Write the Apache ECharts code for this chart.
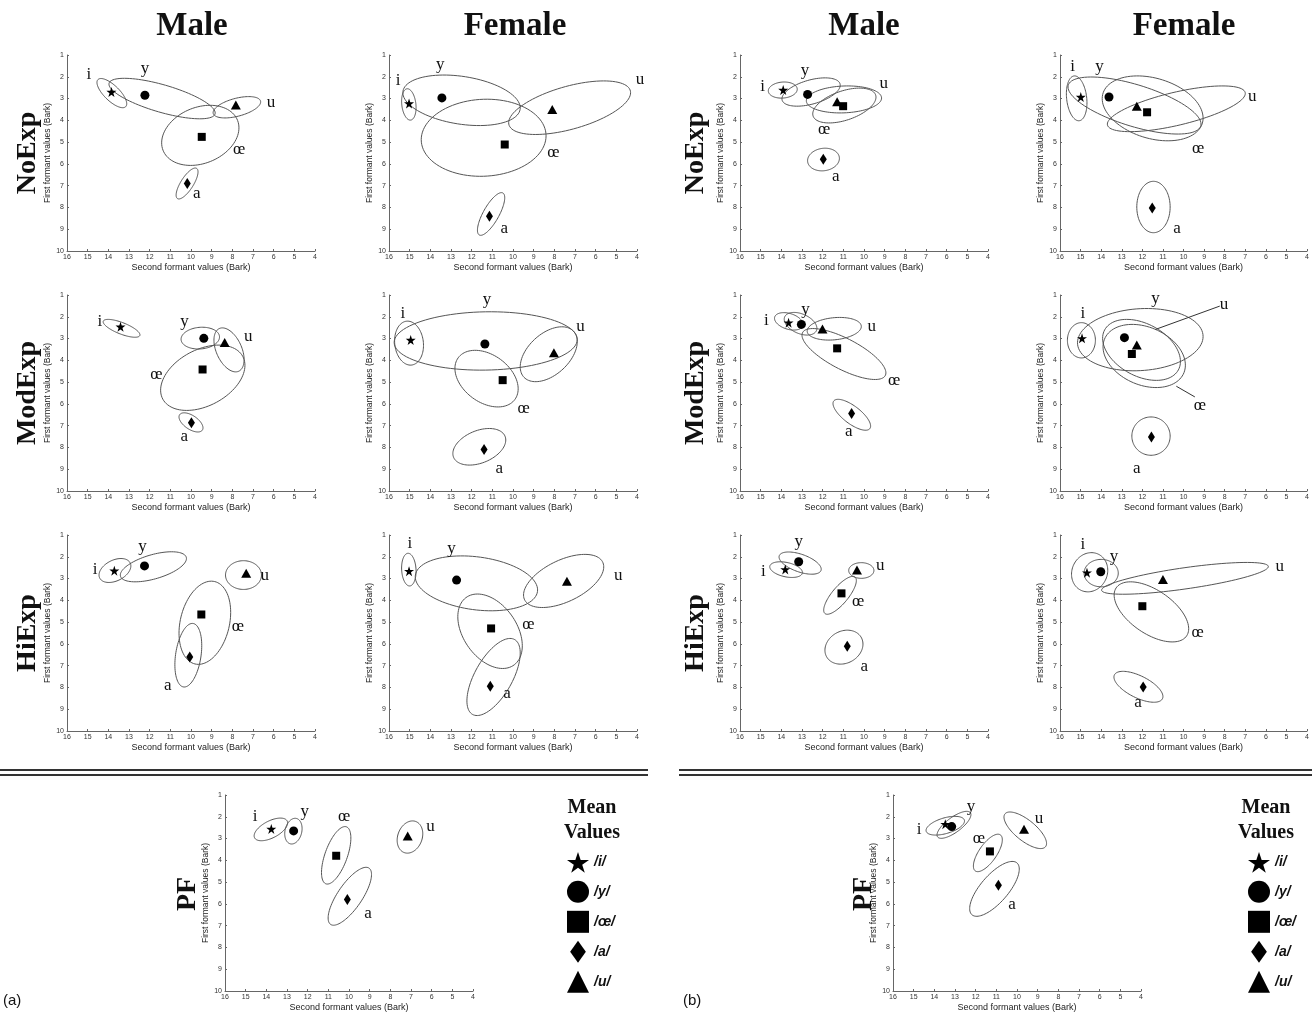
<!DOCTYPE html>
<html><head><meta charset="utf-8">
<script src="https://cdn.jsdelivr.net/npm/echarts/dist/echarts.min.js"></script>
<style>html,body{margin:0;padding:0;background:#fff}#c{width:1312px;height:1015px}</style>
</head><body><div id="c"></div>
<script>
// Vowel order everywhere: i, y, œ, a, u
const VOWELS = ['i', 'y', 'œ', 'a', 'u'];
const LEGEND_LABELS = ['/i/', '/y/', '/œ/', '/a/', '/u/'];
const COLUMN_TITLES = ['Male', 'Female', 'Male', 'Female'];
const ROW_TITLES = ['NoExp', 'ModExp', 'HiExp'];
const X_NAME = 'Second formant values (Bark)';
const Y_NAME = 'First formant values (Bark)';

// Means: F2 (x) and F1 (y), Bark.  Ellipses: [centerF2, centerF1, halfF2, halfF1, k]
// k = position (in half-heights) of the point of largest F2 relative to centre.
// Label anchors: [F2, F1]

// (a) Male NoExp
const aMaleNoExpF2 = [13.85, 12.23, 9.48, 10.18, 7.83];
const aMaleNoExpF1 = [2.70, 2.85, 4.76, 6.90, 3.30];
const aMaleNoExpEll = [[13.83, 2.75, 0.72, 0.67, -0.73], [11.40, 3.00, 2.57, 0.93, -0.71], [9.55, 4.69, 1.87, 1.38, 0.25], [10.19, 6.90, 0.53, 0.71, 0.75], [7.78, 3.40, 1.15, 0.49, 0.50]];
const aMaleNoExpLab = [[14.94, 1.91], [12.23, 1.60], [7.67, 5.35], [9.72, 7.35], [6.13, 3.16]];
// (a) Female NoExp
const aFemaleNoExpF2 = [15.03, 13.44, 10.40, 11.14, 8.10];
const aFemaleNoExpF1 = [3.23, 2.97, 5.11, 8.40, 3.50];
const aFemaleNoExpEll = [[15.04, 3.27, 0.35, 0.72, -0.20], [12.49, 3.08, 2.84, 1.16, -0.30], [11.42, 4.80, 3.02, 1.77, 0.05], [11.06, 8.30, 0.66, 0.98, 0.76], [7.26, 3.42, 2.95, 1.23, 0.56]];
const aFemaleNoExpLab = [[15.56, 2.19], [13.52, 1.46], [8.04, 5.50], [10.42, 8.97], [3.86, 2.11]];
// (a) Male ModExp
const aMaleModExpF2 = [13.41, 9.38, 9.44, 9.98, 8.37];
const aMaleModExpF1 = [2.46, 2.99, 4.42, 6.87, 3.18];
const aMaleModExpEll = [[13.36, 2.53, 0.89, 0.41, -0.73], [9.55, 2.98, 0.93, 0.50, 0.10], [9.43, 4.80, 2.04, 1.50, 0.38], [10.00, 6.85, 0.58, 0.44, -0.57], [8.16, 3.52, 0.73, 1.01, -0.44]];
const aMaleModExpLab = [[14.41, 2.23], [10.32, 2.23], [11.67, 4.65], [10.32, 7.52], [7.23, 2.92]];
// (a) Female ModExp
const aFemaleModExpF2 = [14.95, 11.36, 10.50, 11.40, 8.02];
const aFemaleModExpF1 = [3.07, 3.25, 4.91, 8.10, 3.65];
const aFemaleModExpEll = [[15.03, 3.21, 0.70, 1.01, -0.10], [11.32, 3.11, 4.43, 1.34, 0.05], [11.28, 4.84, 1.53, 1.30, -0.36], [11.63, 7.97, 1.28, 0.84, 0.37], [8.27, 3.72, 1.38, 1.26, 0.46]];
const aFemaleModExpLab = [[15.33, 1.84], [11.26, 1.23], [9.49, 6.21], [10.66, 8.98], [6.73, 2.46]];
// (a) Male HiExp
const aMaleHiExpF2 = [13.71, 12.25, 9.50, 10.06, 7.33];
const aMaleHiExpF1 = [2.64, 2.42, 4.65, 6.60, 2.76];
const aMaleHiExpEll = [[13.68, 2.63, 0.77, 0.55, 0.38], [11.82, 2.46, 1.60, 0.69, 0.55], [9.33, 5.03, 1.25, 1.91, 0.25], [10.13, 6.52, 0.65, 1.46, 0.30], [7.46, 2.84, 0.87, 0.66, 0.00]];
const aMaleHiExpLab = [[14.64, 2.58], [12.35, 1.54], [7.73, 5.22], [11.12, 7.90], [6.43, 2.84]];
// (a) Female HiExp
const aFemaleHiExpF2 = [15.03, 12.73, 11.06, 11.10, 7.39];
const aFemaleHiExpF1 = [2.66, 3.07, 5.29, 7.95, 3.12];
const aFemaleHiExpEll = [[15.04, 2.59, 0.35, 0.75, -0.10], [11.77, 3.22, 2.96, 1.26, -0.24], [11.11, 5.42, 1.56, 1.71, -0.39], [10.94, 7.52, 1.29, 1.77, 0.62], [7.55, 3.11, 1.94, 1.22, 0.53]];
const aFemaleHiExpLab = [[14.99, 1.38], [12.98, 1.61], [9.25, 5.10], [10.29, 8.29], [4.91, 2.84]];
// (b) Male NoExp
const bMaleNoExpF2 = [13.91, 12.73, 11.01, 11.97, 11.30];
const bMaleNoExpF1 = [2.61, 2.81, 3.35, 5.79, 3.15];
const bMaleNoExpEll = [[13.93, 2.61, 0.70, 0.37, 0.10], [12.56, 2.70, 1.41, 0.65, 0.48], [10.95, 3.32, 1.53, 0.80, 0.48], [11.96, 5.80, 0.77, 0.52, 0.10], [10.97, 3.04, 1.82, 0.62, 0.10]];
const bMaleNoExpLab = [[14.90, 2.45], [12.85, 1.70], [11.93, 4.43], [11.36, 6.60], [9.05, 2.32]];
// (b) Female NoExp
const bFemaleNoExpF2 = [14.99, 13.62, 11.77, 11.52, 12.27];
const bFemaleNoExpF1 = [2.93, 2.93, 3.63, 8.03, 3.35];
const bFemaleNoExpEll = [[15.19, 2.99, 0.50, 1.03, -0.20], [12.38, 3.32, 3.23, 1.31, -0.65], [11.50, 3.45, 2.45, 1.49, -0.30], [11.46, 7.98, 0.81, 1.18, 0.00], [10.35, 3.47, 3.35, 1.05, 0.67]];
const bFemaleNoExpLab = [[15.39, 1.54], [14.08, 1.54], [9.29, 5.28], [10.32, 8.96], [6.66, 2.90]];
// (b) Male ModExp
const bMaleModExpF2 = [13.65, 13.03, 11.30, 10.60, 12.01];
const bMaleModExpF1 = [2.27, 2.35, 3.45, 6.44, 2.56];
const bMaleModExpEll = [[13.64, 2.21, 0.69, 0.40, -0.35], [13.07, 2.32, 0.79, 0.52, -0.40], [10.97, 3.71, 2.03, 1.17, -0.74], [10.59, 6.50, 0.91, 0.71, -0.73], [11.44, 2.55, 1.31, 0.52, 0.20]];
const bMaleModExpLab = [[14.73, 2.15], [12.83, 1.66], [8.54, 4.91], [10.74, 7.29], [9.62, 2.46]];
// (b) Female ModExp
const bFemaleModExpF2 = [14.93, 12.87, 12.51, 11.56, 12.27];
const bFemaleModExpF1 = [2.99, 2.96, 3.71, 7.52, 3.30];
const bFemaleModExpEll = [[14.96, 3.08, 0.68, 0.81, 0.00], [12.10, 3.05, 3.05, 1.43, 0.10], [11.91, 3.80, 2.00, 1.45, -0.29], [11.58, 7.48, 0.93, 0.88, 0.00], [12.04, 3.52, 1.89, 1.40, -0.38]];
const bFemaleModExpLab = [[14.89, 1.84], [11.36, 1.15], [9.20, 6.06], [12.27, 8.98], [8.04, 1.46]];
const bFemaleModExpPointers = [[8.24, 1.51, 11.36, 2.58], [9.45, 5.68, 10.35, 5.19]];
// (b) Male HiExp
const bMaleHiExpF2 = [13.81, 13.16, 11.09, 10.81, 10.34];
const bMaleHiExpF1 = [2.58, 2.23, 3.68, 6.11, 2.61];
const bMaleHiExpEll = [[13.77, 2.59, 0.79, 0.36, -0.36], [13.09, 2.29, 1.02, 0.51, -0.55], [11.16, 3.77, 0.79, 0.87, 0.78], [10.97, 6.15, 0.92, 0.78, 0.18], [10.13, 2.63, 0.61, 0.36, 0.00]];
const bMaleHiExpLab = [[14.87, 2.69], [13.16, 1.31], [10.28, 4.04], [9.99, 7.06], [9.21, 2.38]];
// (b) Female HiExp
const bFemaleHiExpF2 = [14.69, 14.02, 12.00, 11.96, 11.00];
const bFemaleHiExpF1 = [2.73, 2.69, 4.27, 7.98, 3.04];
const bFemaleHiExpEll = [[14.56, 2.71, 0.88, 0.90, 0.10], [14.00, 2.75, 0.83, 0.63, 0.00], [11.56, 4.53, 1.81, 1.38, -0.56], [12.19, 7.97, 1.19, 0.71, -0.63], [9.93, 2.99, 4.05, 0.73, 0.74]];
const bFemaleHiExpLab = [[14.89, 1.46], [13.38, 1.99], [9.31, 5.49], [12.21, 8.71], [5.33, 2.46]];
// (a) PF
const aPFF2 = [13.76, 12.68, 10.62, 10.08, 7.16];
const aPFF1 = [2.56, 2.65, 3.79, 5.80, 2.88];
const aPFEll = [[13.78, 2.58, 0.81, 0.52, 0.57], [12.69, 2.66, 0.42, 0.59, 0.20], [10.62, 3.77, 0.71, 1.32, 0.60], [9.96, 5.65, 1.05, 1.33, 0.75], [7.05, 2.93, 0.62, 0.74, 0.20]];
const aPFLab = [[14.54, 1.99], [12.14, 1.76], [10.24, 1.99], [9.08, 6.45], [6.06, 2.45]];
// (b) PF
const bPFF2 = [13.47, 13.16, 11.31, 10.90, 9.66];
const bPFF1 = [2.34, 2.45, 3.59, 5.14, 2.57];
const bPFEll = [[13.47, 2.41, 0.93, 0.43, 0.50], [13.05, 2.37, 0.82, 0.62, 0.75], [11.41, 3.66, 0.70, 0.86, 0.70], [11.09, 5.31, 1.20, 1.26, 0.72], [9.60, 2.62, 1.03, 0.84, -0.72]];
const bPFLab = [[14.74, 2.60], [12.23, 1.51], [11.85, 2.99], [10.24, 6.03], [8.94, 2.06]];

// ---------- layout ----------
const PW = 248, PH = 196;
const PANELS = [
  {f2: aMaleNoExpF2, f1: aMaleNoExpF1, ell: aMaleNoExpEll, lab: aMaleNoExpLab, left: 67, top: 55},
  {f2: aFemaleNoExpF2, f1: aFemaleNoExpF1, ell: aFemaleNoExpEll, lab: aFemaleNoExpLab, left: 389, top: 55},
  {f2: aMaleModExpF2, f1: aMaleModExpF1, ell: aMaleModExpEll, lab: aMaleModExpLab, left: 67, top: 295},
  {f2: aFemaleModExpF2, f1: aFemaleModExpF1, ell: aFemaleModExpEll, lab: aFemaleModExpLab, left: 389, top: 295},
  {f2: aMaleHiExpF2, f1: aMaleHiExpF1, ell: aMaleHiExpEll, lab: aMaleHiExpLab, left: 67, top: 535},
  {f2: aFemaleHiExpF2, f1: aFemaleHiExpF1, ell: aFemaleHiExpEll, lab: aFemaleHiExpLab, left: 389, top: 535},
  {f2: bMaleNoExpF2, f1: bMaleNoExpF1, ell: bMaleNoExpEll, lab: bMaleNoExpLab, left: 740, top: 55},
  {f2: bFemaleNoExpF2, f1: bFemaleNoExpF1, ell: bFemaleNoExpEll, lab: bFemaleNoExpLab, left: 1060, top: 55},
  {f2: bMaleModExpF2, f1: bMaleModExpF1, ell: bMaleModExpEll, lab: bMaleModExpLab, left: 740, top: 295},
  {f2: bFemaleModExpF2, f1: bFemaleModExpF1, ell: bFemaleModExpEll, lab: bFemaleModExpLab, left: 1060, top: 295, ptr: bFemaleModExpPointers},
  {f2: bMaleHiExpF2, f1: bMaleHiExpF1, ell: bMaleHiExpEll, lab: bMaleHiExpLab, left: 740, top: 535},
  {f2: bFemaleHiExpF2, f1: bFemaleHiExpF1, ell: bFemaleHiExpEll, lab: bFemaleHiExpLab, left: 1060, top: 535},
  {f2: aPFF2, f1: aPFF1, ell: aPFEll, lab: aPFLab, left: 225, top: 795},
  {f2: bPFF2, f1: bPFF1, ell: bPFEll, lab: bPFLab, left: 893, top: 795}
];

const STAR = 'path://M12,0 L14.9,8.6 L24,8.6 L16.6,14 L19.4,22.7 L12,17.3 L4.6,22.7 L7.4,14 L0,8.6 L9.1,8.6 Z';
const TALL_DIAMOND = 'path://M5,0 L10,7 L5,14 L0,7 Z';
const SYMBOLS = [STAR, 'circle', 'rect', 'diamond', 'triangle'];
const LEGEND_ICONS = [STAR, 'circle', 'rect', TALL_DIAMOND, 'triangle'];
const SYMBOL_SIZES = [[10, 10], [9, 9], [8, 8], [7, 11], [10, 9]];
const SANS = 'Arial, "Liberation Sans", sans-serif';
const SERIF = '"Liberation Serif", "Times New Roman", serif';

const grid = [], xAxis = [], yAxis = [], series = [];
PANELS.forEach((p, gi) => {
  grid.push({left: p.left, top: p.top, width: PW, height: PH, containLabel: false});
  xAxis.push({
    gridIndex: gi, type: 'value', min: 4, max: 16, interval: 1, inverse: true,
    axisLine: {show: true, onZero: false, lineStyle: {color: '#666', width: 1}},
    axisTick: {show: true, inside: true, length: 2, lineStyle: {color: '#666'}},
    axisLabel: {fontSize: 7, color: '#333', margin: 3, fontFamily: SANS},
    splitLine: {show: false},
    name: X_NAME, nameLocation: 'middle', nameGap: 12,
    nameTextStyle: {fontSize: 9, color: '#222', fontFamily: SANS}
  });
  yAxis.push({
    gridIndex: gi, type: 'value', min: 1, max: 10, interval: 1, inverse: true,
    axisLine: {show: true, onZero: false, lineStyle: {color: '#666', width: 1}},
    axisTick: {show: true, inside: true, length: 2, lineStyle: {color: '#666'}},
    axisLabel: {fontSize: 7, color: '#333', margin: 3, fontFamily: SANS},
    splitLine: {show: false},
    name: Y_NAME, nameLocation: 'middle', nameGap: 12,
    nameTextStyle: {fontSize: 8.5, color: '#222', fontFamily: SANS}
  });
  // ellipses
  series.push({
    type: 'custom', xAxisIndex: gi, yAxisIndex: gi, silent: true, clip: false,
    data: p.ell, encode: {x: 0, y: 1},
    renderItem: (params, api) => {
      const cx = api.value(0), cy = api.value(1), hx = api.value(2), hy = api.value(3), k = api.value(4);
      const phi = Math.acos(Math.max(-1, Math.min(1, k)));
      const pts = [];
      for (let s = 0; s <= 96; s++) {
        const t = s / 96 * Math.PI * 2;
        pts.push(api.coord([cx + hx * Math.cos(t), cy + hy * Math.cos(t + phi)]));
      }
      return {type: 'polyline', shape: {points: pts}, style: {stroke: '#555', lineWidth: 1, fill: null}};
    }
  });
  // means, one series per vowel (named for the legend)
  VOWELS.forEach((v, j) => {
    series.push({
      type: 'scatter', name: LEGEND_LABELS[j], xAxisIndex: gi, yAxisIndex: gi, silent: true,
      symbol: SYMBOLS[j], symbolSize: SYMBOL_SIZES[j], itemStyle: {color: '#000', opacity: 1},
      data: [[p.f2[j], p.f1[j]]], z: 5
    });
  });
  // vowel labels
  series.push({
    type: 'custom', xAxisIndex: gi, yAxisIndex: gi, silent: true, clip: false,
    data: p.lab.map((pt, j) => [pt[0], pt[1], j]), encode: {x: 0, y: 1},
    renderItem: (params, api) => {
      const c = api.coord([api.value(0), api.value(1)]);
      return {type: 'text', x: c[0], y: c[1],
        style: {text: VOWELS[api.value(2)], font: '17px ' + SERIF, fill: '#111', align: 'center', verticalAlign: 'middle'}};
    }
  });
  if (p.ptr) {
    series.push({
      type: 'custom', xAxisIndex: gi, yAxisIndex: gi, silent: true, clip: false,
      data: p.ptr, encode: {x: 0, y: 1},
      renderItem: (params, api) => {
        const a = api.coord([api.value(0), api.value(1)]);
        const b = api.coord([api.value(2), api.value(3)]);
        return {type: 'line', shape: {x1: a[0], y1: a[1], x2: b[0], y2: b[1]}, style: {stroke: '#333', lineWidth: 1}};
      }
    });
  }
});

const graphic = [];
const titleX = [192, 515, 864, 1184];
COLUMN_TITLES.forEach((t, i) => graphic.push({type: 'text', x: titleX[i], y: 26,
  style: {text: t, font: 'bold 33px ' + SERIF, fill: '#111', align: 'center', verticalAlign: 'middle'}}));
[28, 696].forEach(x => ROW_TITLES.forEach((t, r) => graphic.push({type: 'text', x: x, y: 153 + r * 240, rotation: Math.PI / 2,
  style: {text: t, font: 'bold 28px ' + SERIF, fill: '#111', align: 'center', verticalAlign: 'middle'}})));
[188, 864].forEach(x => graphic.push({type: 'text', x: x, y: 894, rotation: Math.PI / 2,
  style: {text: 'PF', font: 'bold 28px ' + SERIF, fill: '#111', align: 'center', verticalAlign: 'middle'}}));
[[592, 808], [1266, 808]].forEach(([x, y]) => {
  graphic.push({type: 'text', x: x, y: y, style: {text: 'Mean', font: 'bold 20px ' + SERIF, fill: '#111', align: 'center', verticalAlign: 'middle'}});
  graphic.push({type: 'text', x: x, y: y + 25, style: {text: 'Values', font: 'bold 20px ' + SERIF, fill: '#111', align: 'center', verticalAlign: 'middle'}});
});
graphic.push({type: 'text', x: 3, y: 1001, style: {text: '(a)', font: '15px ' + SANS, fill: '#111', verticalAlign: 'middle'}});
graphic.push({type: 'text', x: 683, y: 1001, style: {text: '(b)', font: '15px ' + SANS, fill: '#111', verticalAlign: 'middle'}});
[[0, 648], [679, 1312]].forEach(([x1, x2]) => [770, 775].forEach(y => graphic.push({type: 'line',
  shape: {x1: x1, y1: y, x2: x2, y2: y}, style: {stroke: '#333', lineWidth: 2}})));

const legendCommon = {
  orient: 'vertical', top: 847, itemWidth: 22, itemHeight: 22, itemGap: 8, selectedMode: false,
  data: LEGEND_LABELS.map((n, j) => ({name: n, icon: LEGEND_ICONS[j]})),
  itemStyle: {color: '#000', opacity: 1},
  textStyle: {fontSize: 14, fontWeight: 'bold', fontStyle: 'italic', color: '#111', fontFamily: SANS}
};
const option = {
  animation: false, backgroundColor: '#fff',
  grid, xAxis, yAxis, series, graphic,
  legend: [Object.assign({left: 562}, legendCommon), Object.assign({left: 1243}, legendCommon)]
};
const chart = echarts.init(document.getElementById('c'), null, {renderer: 'canvas'});
chart.setOption(option);
</script></body></html>
